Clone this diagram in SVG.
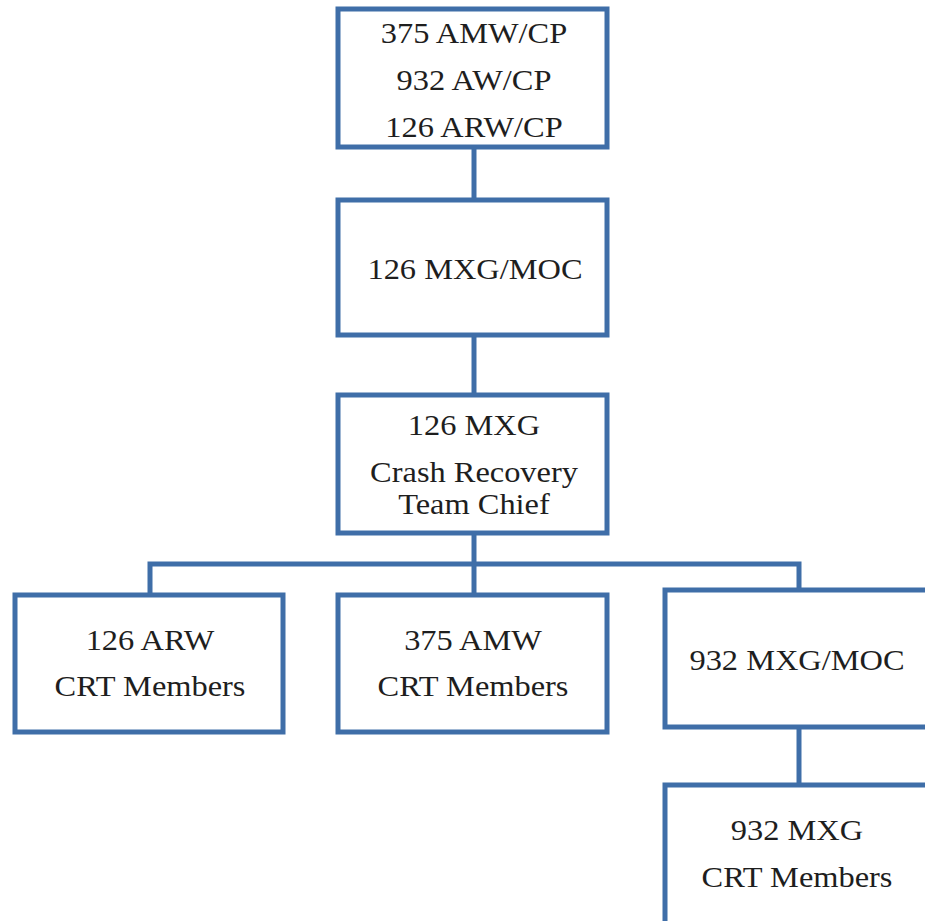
<svg xmlns="http://www.w3.org/2000/svg" width="925" height="921" viewBox="0 0 925 921">
<style>
.box{fill:#fff;stroke:#3F6EA8;stroke-width:5}
.ln{fill:none;stroke:#3F6EA8;stroke-width:5}
text{font-family:'Liberation Serif','Times New Roman',serif;font-size:30px;fill:#1e1e1e;text-anchor:middle}
</style>
<rect width="925" height="921" fill="#fff"/>
<g id="connectors">
<line class="ln" x1="474" y1="147" x2="474" y2="200"/>
<line class="ln" x1="474" y1="335" x2="474" y2="395"/>
<line class="ln" x1="474" y1="533" x2="474" y2="595"/>
<polyline class="ln" points="150,595 150,564 799,564 799,590"/>
<line class="ln" x1="799" y1="727" x2="799" y2="785"/>
</g>
<g id="n1"><rect class="box" x="338" y="9" width="269" height="138"/>
<text transform="translate(474 43) scale(1.08 1)">375 AMW/CP</text>
<text transform="translate(474 90) scale(1.08 1)">932 AW/CP</text>
<text transform="translate(474 137) scale(1.08 1)">126 ARW/CP</text></g>
<g id="n2"><rect class="box" x="338" y="200" width="269" height="135"/>
<text transform="translate(475 279) scale(1.08 1)">126 MXG/MOC</text></g>
<g id="n3"><rect class="box" x="338" y="395" width="269" height="138"/>
<text transform="translate(474 435) scale(1.08 1)">126 MXG</text>
<text transform="translate(474 482) scale(1.08 1)">Crash Recovery</text>
<text transform="translate(474 514) scale(1.08 1)">Team Chief</text></g>
<g id="n4"><rect class="box" x="15" y="595" width="268" height="137"/>
<text transform="translate(150 650) scale(1.08 1)">126 ARW</text>
<text transform="translate(150 696) scale(1.08 1)">CRT Members</text></g>
<g id="n5"><rect class="box" x="338" y="595" width="269" height="137"/>
<text transform="translate(473 650) scale(1.08 1)">375 AMW</text>
<text transform="translate(473 696) scale(1.08 1)">CRT Members</text></g>
<g id="n6"><rect class="box" x="665" y="590" width="270" height="137"/>
<text transform="translate(797 670) scale(1.08 1)">932 MXG/MOC</text></g>
<g id="n7"><rect class="box" x="665" y="785" width="270" height="150"/>
<text transform="translate(797 840) scale(1.08 1)">932 MXG</text>
<text transform="translate(797 887) scale(1.08 1)">CRT Members</text></g>
</svg>
